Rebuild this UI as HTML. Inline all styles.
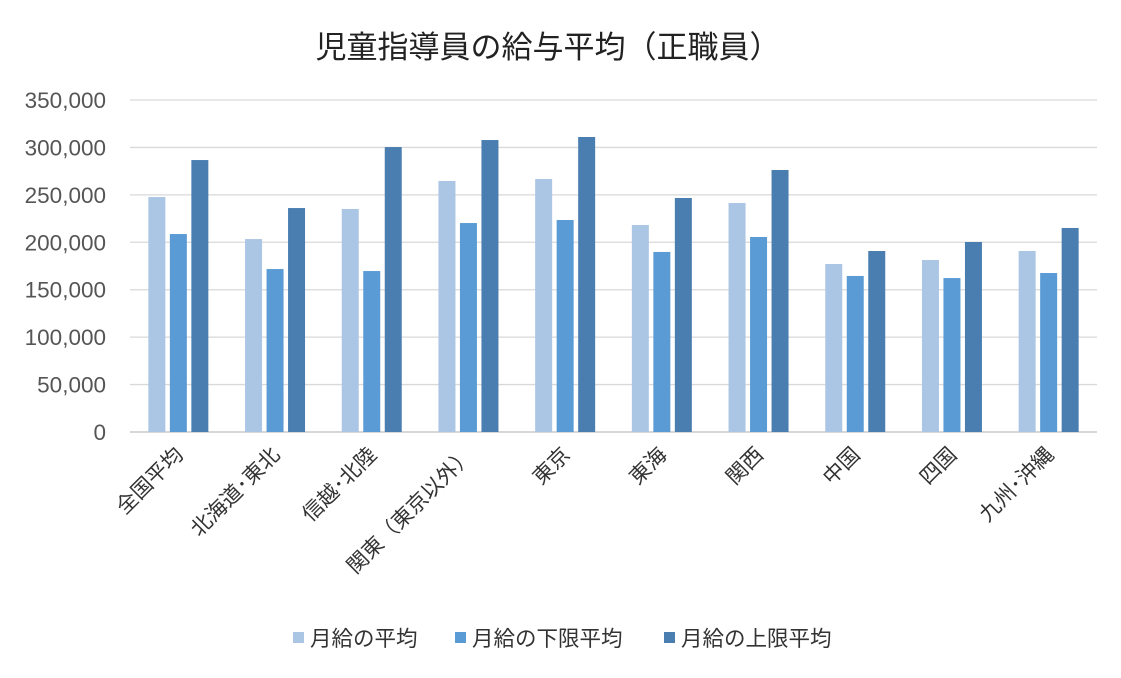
<!DOCTYPE html>
<html><head><meta charset="utf-8"><style>
body{margin:0;background:#fff;}
svg text{font-family:"Liberation Sans","Noto Sans CJK JP",sans-serif;}
</style></head><body>
<svg id="chart" width="1121" height="673" xmlns="http://www.w3.org/2000/svg">
<text x="548" y="58" font-size="31" text-anchor="middle" fill="#222">児童指導員の給与平均（正職員）</text>
<g id="grid"></g><g id="bars"></g><g id="xlabels"></g>
<g font-size="21.5" fill="#333">
<rect x="293" y="632" width="11" height="11" fill="#abc5e5"/><text x="310" y="646">月給の平均</text>
<rect x="455" y="632" width="11" height="11" fill="#5b9bd5"/><text x="472" y="646">月給の下限平均</text>
<rect x="664" y="632" width="11" height="11" fill="#4a7eb0"/><text x="681" y="646">月給の上限平均</text>
</g>
</svg>
<script>
const categories=["全国平均","北海道･東北","信越･北陸","関東（東京以外）","東京","東海","関西","中国","四国","九州･沖縄"];
const avgValues=[247700,203400,235100,264600,266700,218200,241400,177100,181300,190800];
const lowValues=[208700,171800,169700,220300,223500,189800,205600,164500,162300,167600];
const highValues=[286700,236100,300400,307800,311000,246700,276200,190800,200300,215100];
const tickValues=[0,50000,100000,150000,200000,250000,300000,350000];
const NS="http://www.w3.org/2000/svg";
const x0=130,x1=1097,yBase=432,yTop=100,maxV=350000;
const y=v=>yBase-(v/maxV)*(yBase-yTop);
const bw=(x1-x0)/categories.length;
function mk(t,a,p){const e=document.createElementNS(NS,t);for(const k in a)e.setAttribute(k,a[k]);p.appendChild(e);return e;}
const grid=document.getElementById('grid');
tickValues.forEach(v=>{
  const l=mk('line',{x1:x0,x2:x1,y1:y(v),y2:y(v),stroke:v===0?'#bfbfbf':'#d9d9d9','stroke-width':1.3},grid);
  
  
  const t=mk('text',{x:106,y:y(v)+8,'font-size':22.5,'text-anchor':'end',fill:'#555'},grid);
  t.textContent=v.toLocaleString('en-US');
  
  
});
const bars=document.getElementById('bars');
const series=[[avgValues,'#abc5e5','avg'],[lowValues,'#5b9bd5','low'],[highValues,'#4a7eb0','high']];
const w=17,gap=4.5;
categories.forEach((c,i)=>{
  const cx=x0+bw*(i+0.5);
  series.forEach((s,j)=>{
    const bx=cx+(j-1)*(w+gap)-w/2;
    const r=mk('rect',{x:bx,y:y(s[0][i]),width:w,height:yBase-y(s[0][i]),fill:s[1]},bars);
    
    
  });
  const t=mk('text',{x:cx+6,y:456,'font-size':21,'text-anchor':'end',fill:'#333',transform:`rotate(-45 ${cx+6} 456)`},document.getElementById('xlabels'));
  t.textContent=c;
  
  
});
</script>
</body></html>
